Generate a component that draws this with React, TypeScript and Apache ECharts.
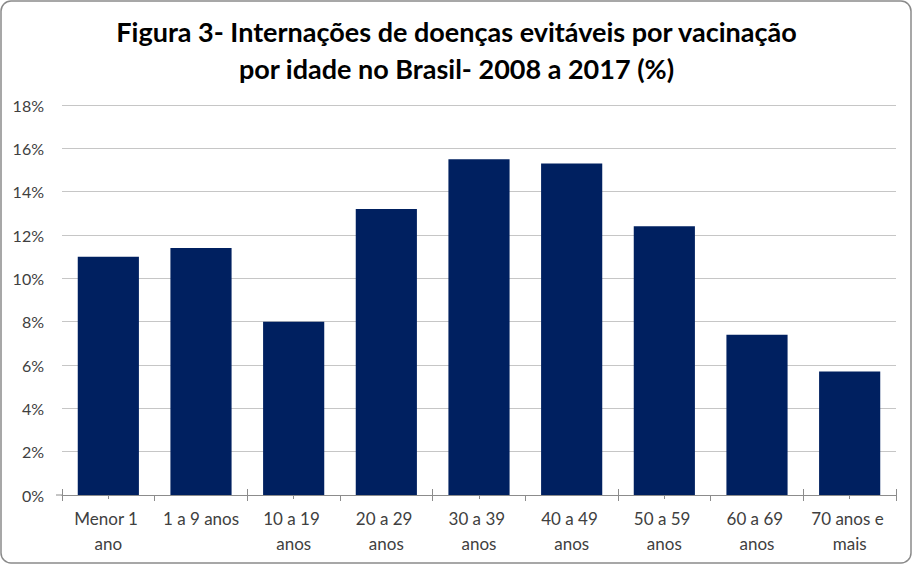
import React, { useEffect, useRef } from "react";
import * as echarts from "echarts";

const categories = [
  "Menor 1 ano",
  "1 a 9 anos",
  "10 a 19 anos",
  "20 a 29 anos",
  "30 a 39 anos",
  "40 a 49 anos",
  "50 a 59 anos",
  "60 a 69 anos",
  "70 anos e mais",
];
const values = [11.0, 11.4, 8.0, 13.2, 15.5, 15.3, 12.4, 7.4, 5.7];
const titleText = "Figura 3- Internações de doenças evitáveis por vacinação\npor idade no Brasil- 2008 a 2017 (%)";

export default function App() {
  const ref = useRef<HTMLDivElement>(null);
  useEffect(() => {
    document.body.style.margin = "0";
    const chart = echarts.init(ref.current!, null, { renderer: "svg" });
    const font = "Lato, 'Open Sans', sans-serif";
    const grid = { left: 62, right: 17, top: 105, bottom: 70 };
    chart.setOption({
      animation: false,
      backgroundColor: "#ffffff",
      title: {
        text: titleText,
        left: "center",
        top: 8,
        textStyle: {
          fontFamily: font,
          fontSize: 27,
          fontWeight: "bold",
          color: "#000000",
          lineHeight: 37,
        },
      },
      grid,
      xAxis: [
        {
          type: "category",
          data: categories,
          axisLine: { show: true, lineStyle: { color: "#8c8c8c", width: 1 } },
          axisTick: { show: true, length: 6, lineStyle: { color: "#8c8c8c" } },
          axisLabel: {
            interval: 0,
            margin: 11,
            fontFamily: font,
            fontSize: 17,
            color: "#404040",
            lineHeight: 25,
            width: 88,
            overflow: "break",
          },
          splitLine: { show: false },
        },
        {
          type: "category",
          data: categories,
          position: "bottom",
          axisLine: { show: false },
          axisTick: { show: true, inside: true, length: 6, lineStyle: { color: "#8c8c8c" } },
          axisLabel: { show: false },
        },
        {
          type: "category",
          data: categories,
          position: "bottom",
          axisLine: { show: false },
          axisTick: { show: true, alignWithLabel: true, length: 4, lineStyle: { color: "#8c8c8c" } },
          axisLabel: { show: false },
        },
      ],
      yAxis: {
        type: "value",
        min: 0,
        max: 18,
        interval: 2,
        axisLine: { show: false },
        axisTick: { show: false },
        axisLabel: {
          formatter: "{value}%",
          margin: 18,
          fontFamily: font,
          fontSize: 16,
          color: "#404040",
        },
        splitLine: { show: true, lineStyle: { color: "#c6c6c6", width: 1 } },
      },
      series: [
        {
          type: "bar",
          data: values,
          barCategoryGap: "34%",
          itemStyle: { color: "#002060" },
          z: 3,
        },
      ],
      graphic: [
        {
          type: "line",
          shape: { x1: 56, y1: 495, x2: 62, y2: 495 },
          style: { stroke: "#8c8c8c", lineWidth: 1 },
          z: 5,
        },
        {
          type: "rect",
          shape: { x: 1, y: 1, width: 910, height: 562, r: 10 },
          style: { fill: "none", stroke: "#8a8a8a", lineWidth: 1.5 },
          z: 10,
          silent: true,
        },
      ],
    });
    return () => chart.dispose();
  }, []);
  return <div ref={ref} style={{ width: 913, height: 565 }} />;
}
